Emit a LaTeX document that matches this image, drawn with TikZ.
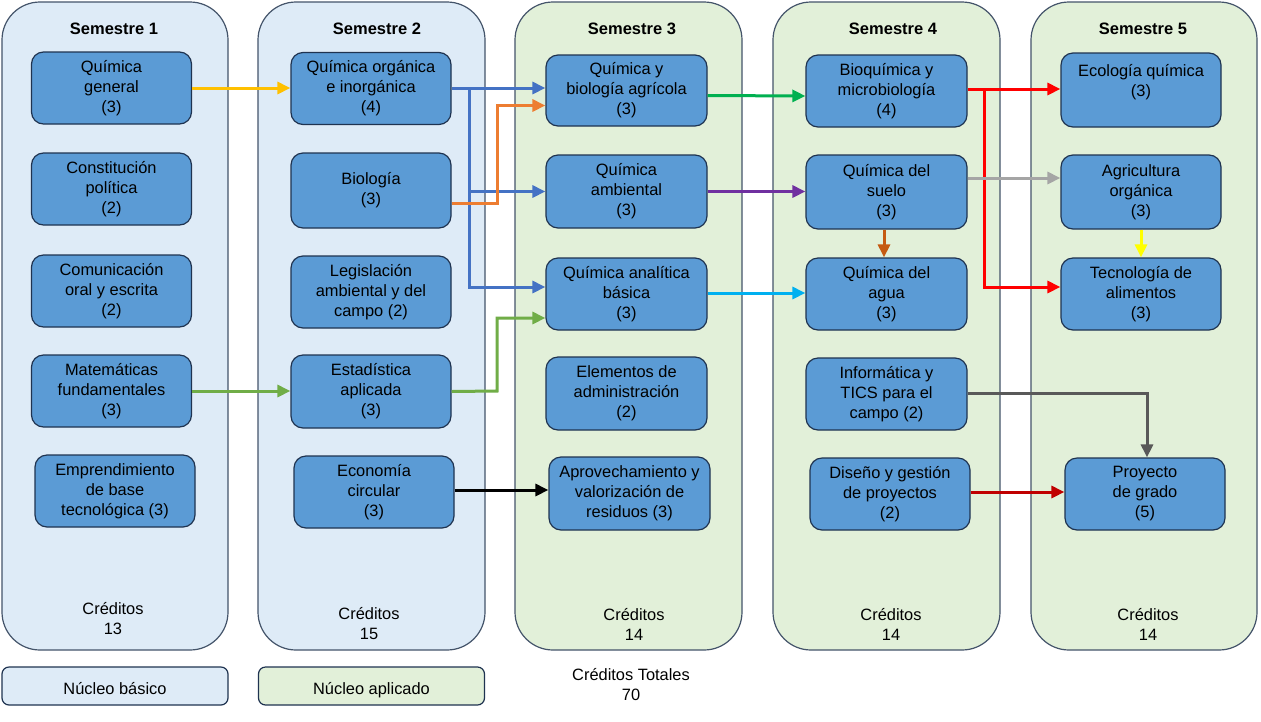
\documentclass[tikz,border=0pt]{standalone}
\usepackage{fontspec}
\setmainfont{Liberation Sans}
\usetikzlibrary{arrows.meta,calc}
\definecolor{colB}{HTML}{DEEBF7}
\definecolor{colG}{HTML}{E2F0D9}
\definecolor{colEdge}{HTML}{44546A}
\definecolor{boxF}{HTML}{5B9BD5}
\definecolor{boxE}{HTML}{1F3350}
\definecolor{cYel}{HTML}{FFC000}
\definecolor{cBlue}{HTML}{4472C4}
\definecolor{cOra}{HTML}{ED7D31}
\definecolor{cGrn}{HTML}{70AD47}
\definecolor{cGrn2}{HTML}{00B050}
\definecolor{cPur}{HTML}{7030A0}
\definecolor{cCyan}{HTML}{00B0F0}
\definecolor{cBrown}{HTML}{C55A11}
\definecolor{cRed}{HTML}{FF0000}
\definecolor{cGray}{HTML}{A5A5A5}
\definecolor{cYel2}{HTML}{FFFF00}
\definecolor{cDGray}{HTML}{595959}
\definecolor{cDRed}{HTML}{C00000}
\tikzset{
  sem/.style={draw=colEdge, line width=1.2pt, rounded corners=38pt, inner sep=0pt},
  course/.style={draw=boxE, fill=boxF, line width=1.2pt, rounded corners=12pt, minimum width=160pt, minimum height=72pt, align=center, inner sep=1pt, font=\fontsize{16.4}{20}\selectfont},
  legend/.style={draw=boxE, line width=1.2pt, rounded corners=7pt, minimum width=226pt, minimum height=38pt, text height=17pt, text depth=1pt, font=\fontsize{16.4}{20}\selectfont},
  head/.style={font=\bfseries\fontsize{16.5}{18}\selectfont},
  txt/.style={align=center, font=\fontsize{16.4}{20}\selectfont},
  arr/.style={line width=3pt, -{Triangle[length=13pt,width=12pt]}}
}
\begin{document}
\begin{tikzpicture}[x=1pt,y=-1pt]
\useasboundingbox (0,0) rectangle (1261,721);
\fill[white] (0,0) rectangle (1261,721);
% semester columns
\node[sem, fill=colB, minimum width=226pt, minimum height=648pt] (s1) at (115,326) {};
\node[sem, fill=colB, minimum width=227pt, minimum height=648pt] (s2) at (371.5,326) {};
\node[sem, fill=colG, minimum width=227pt, minimum height=648pt] (s3) at (628.5,326) {};
\node[sem, fill=colG, minimum width=227pt, minimum height=648pt] (s4) at (886.5,326) {};
\node[sem, fill=colG, minimum width=226pt, minimum height=648pt] (s5) at (1144,326) {};
\node[head] (h1) at (114,29) {Semestre 1};
\node[head] (h2) at (377,29) {Semestre 2};
\node[head] (h3) at (632,29) {Semestre 3};
\node[head] (h4) at (893,29) {Semestre 4};
\node[head] (h5) at (1143,29) {Semestre 5};
% credits
\node[txt] (c1) at (113,619) {Créditos\\13};
\node[txt] (c2) at (369,624) {Créditos\\15};
\node[txt] (c3) at (634,624) {Créditos\\14};
\node[txt] (c4) at (891,624) {Créditos\\14};
\node[txt] (c5) at (1148,624) {Créditos\\14};
% legend
\node[legend, fill=colB] (lb) at (115,686) {Núcleo básico};
\node[legend, fill=colG] (la) at (371.5,686) {Núcleo aplicado};
\node[txt] (tot) at (631,685) {Créditos Totales\\70};
% semester 1
\node[course] (qg) at (111.5,88) {Química\\general\\(3)};
\node[course] (cp) at (111.5,189) {Constitución\\política\\(2)};
\node[course] (co) at (111.5,291) {Comunicación\\oral y escrita\\(2)};
\node[course] (mf) at (111.5,391) {Matemáticas\\fundamentales\\(3)};
\node[course] (em) at (115,491) {Emprendimiento\\de base\\tecnológica (3)};
% semester 2
\node[course] (qoi) at (371,88.5) {Química orgánica\\e inorgánica\\(4)};
\node[course, minimum height=75pt] (bio) at (371,190.5) {Biología\\(3)};
\node[course] (leg) at (371,292) {Legislación\\ambiental y del\\campo (2)};
\node[course, minimum height=73pt] (est) at (371,391.5) {Estadística\\aplicada\\(3)};
\node[course] (eco) at (374,492) {Economía\\circular\\(3)};
% semester 3
\node[course, minimum width=161pt, minimum height=71pt] (qba) at (626.5,90.5) {Química y\\biología agrícola\\(3)};
\node[course, minimum width=161pt, minimum height=73pt] (qam) at (626.5,191.5) {Química\\ambiental\\(3)};
\node[course, minimum width=161pt] (qan) at (626.5,294) {Química analítica\\básica\\(3)};
\node[course, minimum width=161pt, minimum height=73pt] (ead) at (626.5,393.5) {Elementos de\\administración\\(2)};
\node[course, minimum width=161pt, minimum height=73pt] (apr) at (629.5,493.5) {Aprovechamiento y\\valorización de\\residuos (3)};
% semester 4
\node[course, minimum width=161pt] (bq) at (886.5,91) {Bioquímica y\\microbiología\\(4)};
\node[course, minimum width=161pt, minimum height=74pt] (qs) at (886.5,192) {Química del\\suelo\\(3)};
\node[course, minimum width=161pt] (qa) at (886.5,294) {Química del\\agua\\(3)};
\node[course, minimum width=161pt] (inf) at (886.5,394) {Informática y\\TICS para el\\campo (2)};
\node[course] (dg) at (890,494) {Diseño y gestión\\de proyectos\\(2)};
% semester 5
\node[course, minimum height=74pt] (ecq) at (1141,90) {Ecología química\\(3)\\\mbox{}};
\node[course, minimum height=74pt] (ag) at (1141,192) {Agricultura\\orgánica\\(3)};
\node[course] (tec) at (1141,294) {Tecnología de\\alimentos\\(3)};
\node[course] (pg) at (1145,494) {Proyecto\\de grado\\(5)};
% connectors
\coordinate (bj) at (469,88);
\coordinate (oj) at (497,203);
\coordinate (gj) at (497,391);
\coordinate (rj) at (984,89);
\coordinate (dj) at (1147,393);
\draw[arr, cYel] (qg.east) -- (qoi.west |- qg.east);
\draw[arr, cGrn] (mf.east) -- (est.west |- mf.east);
\draw[arr, cBlue] (qoi.east |- bj) -- (qba.west |- bj);
\draw[arr, cBlue] (bj) |- (qam.west);
\draw[arr, cBlue] (bj) |- ([yshift=7pt]qan.west);
\draw[arr, cOra] (bio.east |- oj) -- (oj) |- ([yshift=-15pt]qba.west);
\draw[arr, cGrn] (est.east) -- (gj) |- ([yshift=-24pt]qan.west);
\draw[arr, black] (eco.east |- 0,490) -- (apr.west |- 0,490);
\draw[arr, cGrn2] ([yshift=-5pt]qba.east) -- (bq.west |- 0,96);
\draw[arr, cPur] (qam.east) -- (qs.west |- qam.east);
\draw[arr, cCyan] ([yshift=1pt]qan.east) -- (qa.west |- 0,293);
\draw[arr, cBrown] (qs.south -| 884,0) -- (qa.north -| 884,0);
\draw[arr, cRed] (bq.east |- rj) -- (ecq.west |- rj);
\draw[arr, cRed] (rj) |- ([yshift=7pt]tec.west);
\draw[arr, cGray] ([yshift=14pt]qs.east) -- ([yshift=14pt]ag.west);
\draw[arr, cYel2] (ag.south) -- (tec.north);
\draw[arr, cDGray] (inf.east |- dj) -- (dj) -- (pg.north -| dj);
\draw[arr, cDRed] ([yshift=2pt]dg.east) -- ([yshift=2pt]pg.west);
\end{tikzpicture}
\end{document}
